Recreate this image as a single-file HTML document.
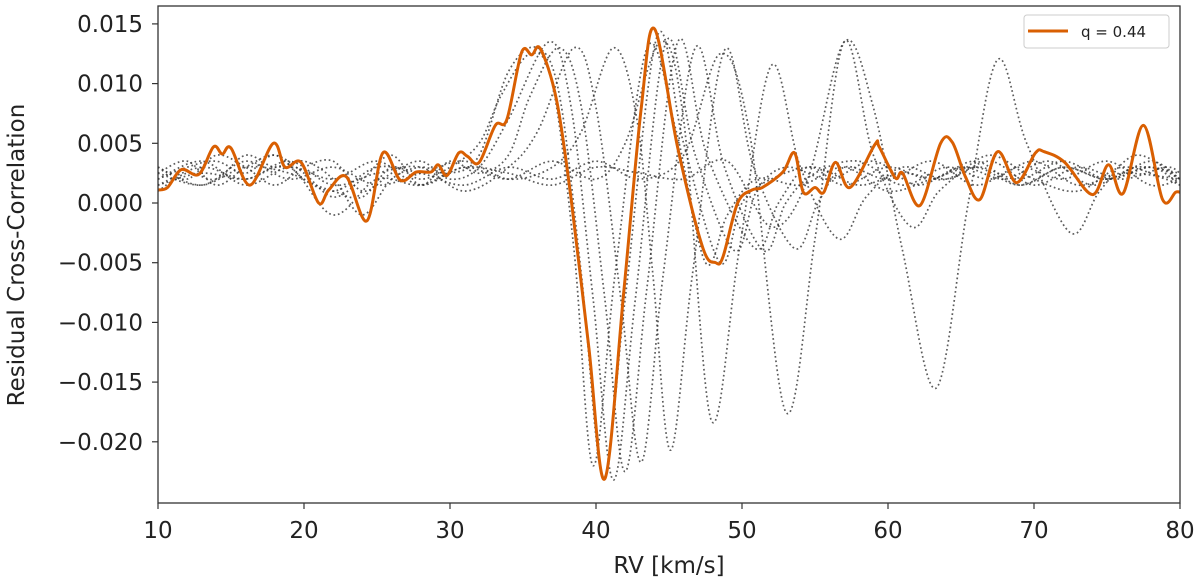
<!DOCTYPE html>
<html><head><meta charset="utf-8">
<style>
html,body{margin:0;padding:0;background:#fff;width:1200px;height:583px;overflow:hidden}
svg{display:block;font-family:"DejaVu Sans","Liberation Sans",sans-serif}
</style></head>
<body>
<svg id="chart" width="1200" height="583" viewBox="0 0 1200 583">
  <g id="grays"></g>
  <g id="orange"></g>
  <rect x="158" y="6" width="1022" height="497" fill="none" stroke="#333" stroke-width="1.3"/>
  <g id="xticks"></g>
  <g id="yticks"></g>
  <text x="669" y="573" text-anchor="middle" font-size="23" fill="#222">RV [km/s]</text>
  <text transform="translate(24,255) rotate(-90)" text-anchor="middle" font-size="23" fill="#222">Residual Cross-Correlation</text>
  <g>
    <rect x="1024" y="15" width="145" height="33" rx="3" fill="#fff" stroke="#ccc"/>
    <line x1="1028" y1="31" x2="1068" y2="31" stroke="#d95f02" stroke-width="3"/>
    <text x="1081" y="37" font-size="15" fill="#222">q = 0.44</text>
  </g>
</svg>
<script>
const xTicks=[10,20,30,40,50,60,70,80];
const yTicks=[0.015,0.010,0.005,0.000,-0.005,-0.010,-0.015,-0.020];
const yTickLabels=["0.015","0.010","0.005","0.000","\u22120.005","\u22120.010","\u22120.015","\u22120.020"];
const orangeRV=[10,10.65,11.6,12.8,13.8,14.4,15.0,16.3,17.9,18.7,19.8,21.0,21.7,22.9,24.3,25.4,26.6,27.7,28.7,29.2,29.8,30.6,31.2,32.0,33.1,33.9,34.9,35.6,36.2,37.3,38.3,39.5,40.6,41.9,43.1,44.0,45.6,47.3,48.2,48.7,49.7,50.7,51.4,52.8,53.6,54.2,55.0,55.6,56.4,57.4,59.1,59.4,60.5,61.0,62.2,63.6,64.4,65.3,66.3,67.5,68.8,70.1,70.7,72.1,74.0,75.1,76.1,77.5,78.8,79.7,80];
const orangeVal=[0.0011,0.0013,0.0028,0.0024,0.0047,0.0041,0.0046,0.0015,0.0050,0.0030,0.0034,0.0000,0.0011,0.0022,-0.0015,0.0042,0.0019,0.0026,0.0026,0.0032,0.0023,0.0042,0.0039,0.0034,0.0065,0.0070,0.0126,0.0124,0.0129,0.0086,0.0003,-0.0120,-0.0231,-0.0075,0.0080,0.0146,0.0046,-0.0037,-0.0050,-0.0045,0.0000,0.0011,0.0013,0.0026,0.0042,0.0009,0.0013,0.0009,0.0034,0.0013,0.0049,0.0047,0.0021,0.0025,-0.0002,0.0050,0.0051,0.0022,0.0003,0.0043,0.0017,0.0042,0.0043,0.0034,0.0007,0.0032,0.0008,0.0065,0.0003,0.0009,0.0009];
const grayA=[[10,.002],[12,.003],[14,.0035],[16,.0025],[18,.004],[20,.002],[22,.001],[24,.0005],[26,.003],[28,.002],[30,.003],[32,.005],[33.5,.009],[35.5,.0125],[37,.010],[38.5,-.004],[39.8,-.022],[41.3,-.006],[43.5,.013],[45.5,.006],[47.5,-.005],[49,-.001],[51,.002],[54,.0015],[57,.003],[60,.001],[63,.002],[66,.003],[69,.0015],[72,.003],[75,.002],[78,.0035],[80,.002]];
const grayB=[[10,.001],[12,.0025],[14,.002],[16,.004],[18,.003],[20,.0035],[22,.002],[24,-.001],[26,.002],[28,.003],[30,.0025],[32,.004],[34,.011],[36,.013],[37.5,.009],[39,-.006],[40.5,-.023],[42,-.008],[44.2,.014],[46,.005],[48.5,-.005],[50,.0],[52,.002],[55,.003],[58,.0015],[61,.0025],[64,.002],[67,.004],[70,.002],[73,.001],[76,.003],[79,.002],[80,.0015]];
const grayC=[[10,.003],[12,.002],[14,.004],[16,.003],[18,.0015],[20,.003],[22,.0035],[24,.001],[26,.0025],[28,.0035],[30,.002],[32,.003],[34,.007],[36.8,.0135],[38.3,.008],[39.8,-.008],[41.2,-.0232],[42.7,-.008],[44.8,.0135],[46.8,.004],[49.5,-.004],[51,.001],[53,.003],[56,.002],[59,.0035],[62,.0015],[65,.003],[68,.002],[71,.0035],[74,.0015],[77,.003],[80,.0025]];
const grayD=[[10,.0025],[12,.0035],[14,.0015],[16,.003],[18,.004],[20,.0025],[22,.0005],[24,.002],[26,.004],[28,.0015],[30,.0035],[32,.0025],[34,.004],[35.5,.009],[37.5,.013],[39,.008],[40.6,-.008],[42,-.0225],[43.5,-.007],[45.6,.0135],[47.6,.004],[50.9,-.0038],[52.5,.0],[54.5,.003],[57,.0015],[60,.003],[63,.002],[66,.0035],[69,.0015],[72,.003],[75,.002],[78,.003],[80,.0015]];
const grayE=[[10,.0015],[13,.003],[16,.002],[19,.0035],[22,.0015],[25,.0025],[28,.003],[31,.001],[34,.003],[36,.006],[38.5,.013],[40,.008],[41.7,-.008],[43.1,-.0217],[44.6,-.006],[46.8,.013],[48.8,.003],[51.5,-.004],[53,.0],[55,.0025],[58,.0035],[61,.0015],[64,.003],[67,.002],[70,.0035],[73,.0015],[76,.0025],[80,.002]];
const grayF=[[10,.003],[13,.0015],[16,.0035],[19,.002],[22,.003],[25,.0015],[28,.0025],[31,.0035],[34,.002],[37,.003],[39,.006],[41.2,.013],[42.8,.007],[43.9,-.006],[45.1,-.0207],[46.6,-.006],[48.8,.0128],[50.8,.003],[53.6,-.0038],[55.2,.0],[57,.003],[60,.002],[63,.0035],[66,.0015],[69,.003],[72,.002],[75,.0035],[78,.0015],[80,.002]];
const grayG=[[10,.002],[13,.0035],[16,.0015],[19,.003],[22,.002],[25,.0035],[28,.0015],[31,.003],[34,.002],[37,.0035],[40,.002],[42,.005],[44.4,.0135],[46,.007],[47.9,-.0182],[49.8,-.004],[52,.0115],[54,.003],[56.6,-.003],[58.5,.0005],[61,.003],[64,.002],[67,.0035],[70,.0015],[73,.003],[76,.002],[79,.003],[80,.0025]];
const grayH=[[10,.0025],[13,.0015],[16,.003],[19,.0025],[22,.001],[25,.003],[28,.0025],[31,.0015],[34,.003],[37,.002],[40,.0035],[43,.002],[46,.004],[48.5,.0125],[50.5,.006],[53,-.0175],[55,-.003],[57,.0135],[59,.004],[61.6,-.002],[63.5,.001],[66,.003],[69,.002],[72,.0035],[75,.002],[78,.003],[80,.002]];
const grayI=[[10,.0015],[13,.0025],[16,.002],[19,.003],[22,-.001],[25,.002],[28,.0015],[31,.003],[34,.0025],[37,.0015],[40,.003],[43,.0025],[46,.002],[49,.0035],[52,-.002],[54.5,.002],[57,.0135],[59,.008],[61,-.004],[63.3,-.0155],[65.5,.0],[67.5,.012],[69.5,.005],[72.5,-.0025],[74.5,.001],[77,.004],[80,.002]];
const grayCurves=[grayA,grayB,grayC,grayD,grayE,grayF,grayG,grayH,grayI];

const X0=158,X1=1180,XMIN=10,XMAX=80;
const Y0=203,YPX=59.7/0.005;
function xs(v){return X0+(v-XMIN)*(X1-X0)/(XMAX-XMIN);}
function ys(v){return Y0-v*YPX;}
function smoothPath(pts){
  let d='M'+pts[0][0].toFixed(1)+','+pts[0][1].toFixed(1);
  for(let i=0;i<pts.length-1;i++){
    const p0=pts[Math.max(0,i-1)],p1=pts[i],p2=pts[i+1],p3=pts[Math.min(pts.length-1,i+2)];
    const c1x=p1[0]+(p2[0]-p0[0])/6,c1y=p1[1]+(p2[1]-p0[1])/6;
    const c2x=p2[0]-(p3[0]-p1[0])/6,c2y=p2[1]-(p3[1]-p1[1])/6;
    d+=' C'+c1x.toFixed(1)+','+c1y.toFixed(1)+' '+c2x.toFixed(1)+','+c2y.toFixed(1)+' '+p2[0].toFixed(1)+','+p2[1].toFixed(1);
  }
  return d;
}
const NS='http://www.w3.org/2000/svg';
const gG=document.getElementById('grays');
grayCurves.forEach((c,i)=>{
  const p=document.createElementNS(NS,'path');
  p.setAttribute('d',smoothPath(c.map(q=>[xs(q[0]),ys(q[1])])));
  p.setAttribute('fill','none');p.setAttribute('stroke','#333');p.setAttribute('stroke-opacity','0.8');
  p.setAttribute('stroke-width','1.7');p.setAttribute('stroke-dasharray','1.7 2.8');
  
  
  gG.appendChild(p);
});
const oG=document.getElementById('orange');
const op=document.createElementNS(NS,'path');
op.setAttribute('d',smoothPath(orangeRV.map((r,i)=>[xs(r),ys(orangeVal[i])])));
op.setAttribute('fill','none');op.setAttribute('stroke','#d95f02');op.setAttribute('stroke-width','3');op.setAttribute('stroke-linejoin','round');


oG.appendChild(op);

const xg=document.getElementById('xticks');
xTicks.forEach(t=>{
  const l=document.createElementNS(NS,'line');
  l.setAttribute('x1',xs(t));l.setAttribute('x2',xs(t));l.setAttribute('y1',503);l.setAttribute('y2',509);
  l.setAttribute('stroke','#333');l.setAttribute('stroke-width','1.2');
  
  
  xg.appendChild(l);
  const tx=document.createElementNS(NS,'text');
  tx.setAttribute('x',xs(t));tx.setAttribute('y',538);tx.setAttribute('text-anchor','middle');
  tx.setAttribute('font-size','23');tx.setAttribute('fill','#222');tx.textContent=t;
  
  
  xg.appendChild(tx);
});
const yg=document.getElementById('yticks');
yTicks.forEach((t,i)=>{
  const l=document.createElementNS(NS,'line');
  l.setAttribute('x1',152);l.setAttribute('x2',158);l.setAttribute('y1',ys(t));l.setAttribute('y2',ys(t));
  l.setAttribute('stroke','#333');l.setAttribute('stroke-width','1.2');
  
  
  yg.appendChild(l);
  const tx=document.createElementNS(NS,'text');
  tx.setAttribute('x',143);tx.setAttribute('y',ys(t)+8);tx.setAttribute('text-anchor','end');
  tx.setAttribute('font-size','23');tx.setAttribute('fill','#222');tx.textContent=yTickLabels[i];
  
  
  yg.appendChild(tx);
});
</script>
</body></html>
